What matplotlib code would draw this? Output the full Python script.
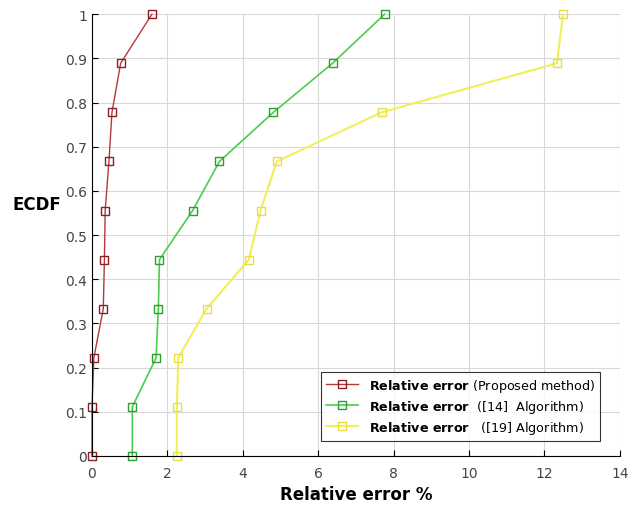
import numpy as np
import matplotlib
matplotlib.use("Agg")
import matplotlib.pyplot as plt

# ECDF levels (10 samples)
ecdf = [0, 1/9, 2/9, 3/9, 4/9, 5/9, 6/9, 7/9, 8/9, 1]

# relative error % for each method
err_proposed = [0.0, 0.0, 0.05, 0.30, 0.33, 0.35, 0.45, 0.53, 0.76, 1.59]
err_alg14 = [1.07, 1.07, 1.70, 1.76, 1.79, 2.67, 3.38, 4.81, 6.38, 7.76]
err_alg19 = [2.25, 2.25, 2.29, 3.04, 4.16, 4.47, 4.90, 7.68, 12.33, 12.49]

labels = [r"$\mathbf{Relative\ error}$ (Proposed method)",
          r"$\mathbf{Relative\ error}$  ([14]  Algorithm)",
          r"$\mathbf{Relative\ error}$   ([19] Algorithm)"]

plt.rcParams['mathtext.fontset'] = 'dejavusans'

fig = plt.figure(figsize=(6.3, 5.06), dpi=100)
ax = fig.add_axes([0.146, 0.097, 0.838, 0.873])

ax.plot(err_proposed, ecdf, color='#b23a3a', lw=1.0, marker='s', ms=6,
        mfc='none', mec='#8b2020', mew=1.0, label=labels[0], clip_on=False)
ax.plot(err_alg14, ecdf, color='#4ccc4c', lw=1.2, marker='s', ms=6,
        mfc='none', mec='#2e9e2e', mew=1.0, label=labels[1], clip_on=False)
ax.plot(err_alg19, ecdf, color='#f2ee5a', lw=1.5, marker='s', ms=6,
        mfc='none', mec='#e6e040', mew=1.0, label=labels[2], clip_on=False)

ax.set_xlim(0, 14)
ax.set_ylim(0, 1)
ax.set_xticks(np.arange(0, 15, 2))
ax.set_yticks(np.arange(0, 1.01, 0.1))
ax.set_yticklabels(['0', '0.1', '0.2', '0.3', '0.4', '0.5', '0.6', '0.7', '0.8', '0.9', '1'])
ax.grid(True, color='#d8d8d8', lw=0.8)
ax.set_axisbelow(True)
ax.tick_params(direction='in', labelsize=10, labelcolor='#444444', length=4)
ax.tick_params(axis='x', pad=7)
for s in ['top', 'right']:
    ax.spines[s].set_visible(False)

ax.set_xlabel('Relative error %', fontsize=12, fontweight='bold', labelpad=4)
ax.set_ylabel('ECDF', fontsize=12, fontweight='bold', rotation=0)
ax.yaxis.set_label_coords(-0.105, 0.55)

leg = ax.legend(loc='lower right', bbox_to_anchor=(0.975, 0.02), fontsize=9.2,
                frameon=True, fancybox=False, edgecolor='black',
                handlelength=2.5, borderpad=0.4, labelspacing=0.3)
leg.get_frame().set_linewidth(0.8)

fig.savefig('out.png', dpi=100)
